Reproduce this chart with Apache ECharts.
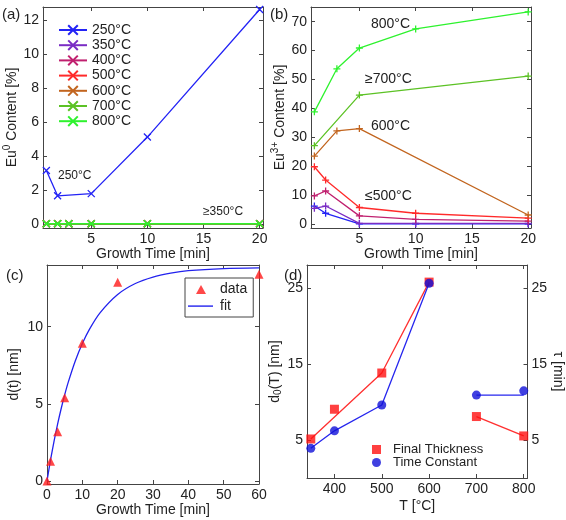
<!DOCTYPE html>
<html>
<head>
<meta charset="utf-8">
<script src="https://cdn.jsdelivr.net/npm/echarts@6/dist/echarts.min.js"></script>
<style>
  html, body { margin: 0; padding: 0; background: #fff; }
  #chart { width: 566px; height: 520px; }
</style>
</head>
<body>
<div id="chart"></div>
<script>
// (a) Eu0 content vs growth time
const eu0Times250 = [1, 2, 5, 10, 20];
const eu0Vals250 = [3.15, 1.65, 1.78, 5.12, 12.65];
const eu0TimesHigh = [1, 2, 3, 5, 10, 20];
const eu0ValsHigh = [0, 0, 0, 0, 0, 0];

// (b) Eu3+ content vs growth time
const t250 = [1, 2, 5, 10, 20], v250 = [6.2, 3.7, 0, 0, 0];
const t350 = [1, 2, 5, 10, 20], v350 = [5.4, 6.2, 0.2, 0.2, 0.2];
const t400 = [1, 2, 5, 10, 20], v400 = [9.7, 11.4, 2.8, 1.6, 1.0];
const t500 = [1, 2, 5, 10, 20], v500 = [19.8, 15.2, 5.7, 3.7, 2.0];
const t600 = [1, 3, 5, 20], v600 = [23.5, 32.2, 33.0, 3.1];
const t700 = [1, 5, 20], v700 = [27.1, 44.6, 51.2];
const t800 = [1, 3, 5, 10, 20], v800 = [38.8, 53.7, 60.9, 67.5, 73.4];

// (c) thickness vs time
const dataT = [0, 1, 3, 5, 10, 20, 60];
const dataD = [0, 1.28, 3.18, 5.39, 8.92, 12.88, 13.4];
const fitT = [0, 1, 2, 3, 4, 5, 6, 8, 10, 12, 15, 20, 25, 30, 35, 40, 50, 60];
const fitD = [0, 1.36, 2.58, 3.68, 4.68, 5.58, 6.39, 7.78, 8.91, 9.83, 10.9, 12.09, 12.8, 13.22, 13.47, 13.63, 13.77, 13.82];

// (d) final thickness / time constant vs temperature
const tempsD = [350, 400, 500, 600, 700, 800];
const finalThick = [5.13, 9.04, 13.8, 25.75, 8.08, 5.53];
const timeConst = [3.9, 6.2, 9.6, 25.6, 10.9, 11.46];
const thickLineLow = [[350, 5.13], [500, 13.8], [600, 25.75]];
const thickLineHigh = [[700, 8.08], [800, 5.53]];
const tauLineLow = [[350, 3.9], [400, 6.2], [500, 9.6], [600, 25.6]];
const tauLineHigh = [[700, 10.9], [800, 10.9]];

const tempNames = ['250°C', '350°C', '400°C', '500°C', '600°C', '700°C', '800°C'];
const tempColors = ['#2323f5', '#7a2cc4', '#c0206f', '#ff2a2a', '#c2651f', '#5cc225', '#2ef22e'];

const FONT = 'Liberation Sans';
const CROSS = 'path://M0,0L10,10M10,0L0,10';
const PLUS = 'path://M5,0L5,10M0,5L10,5';
// legend icons padded with empty corner points so they keep their shape
const ICON_TRI = 'path://M0,0L0,0M8,10L13,1L18,10ZM25,10L25,10';
const ICON_LINE = 'path://M0,0L0,0M0,4.4L25,4.4L25,5.8L0,5.8ZM25,10L25,10';

function zip(xs, ys) {
  return xs.map((x, i) => [x, ys[i]]);
}

const lineCol = '#444';
function axis(extra, ticks, showLabel) {
  const a = {
    type: 'value',
    axisLine: { show: true, onZero: false, lineStyle: { color: lineCol, width: 1 } },
    axisTick: { show: true, inside: true, length: 4, lineStyle: { color: lineCol } },
    axisLabel: { show: showLabel, color: '#222', fontSize: 14, fontFamily: FONT, margin: 4 },
    splitLine: { show: false },
    nameTextStyle: { color: '#222', fontSize: 14, fontFamily: FONT }
  };
  if (ticks) {
    a.axisTick.customValues = ticks;
    a.axisLabel.customValues = ticks;
  }
  return Object.assign(a, extra);
}

const tA = [5, 10, 15, 20];
const yA = [0, 2, 4, 6, 8, 10, 12];
const yB = [0, 10, 20, 30, 40, 50, 60, 70];
const tC = [0, 10, 20, 30, 40, 50, 60];
const yC = [0, 5, 10];
const tD = [400, 500, 600, 700, 800];
const yD = [5, 15, 25];

const grids = [
  { left: 43, top: 7, width: 220, height: 221 },
  { left: 311, top: 7, width: 220, height: 221 },
  { left: 47, top: 265, width: 212, height: 219 },
  { left: 307, top: 265, width: 221, height: 213 }
];

const xAxes = [
  axis({ gridIndex: 0, min: 0.7, max: 20.3, name: 'Growth Time [min]', nameLocation: 'middle', nameGap: 16 }, tA, true),
  axis({ gridIndex: 0, min: 0.7, max: 20.3, position: 'top' }, tA, false),
  axis({ gridIndex: 1, min: 0.7, max: 20.25, name: 'Growth Time [min]', nameLocation: 'middle', nameGap: 16 }, tA, true),
  axis({ gridIndex: 1, min: 0.7, max: 20.25, position: 'top' }, tA, false),
  axis({ gridIndex: 2, min: 0, max: 60, name: 'Growth Time [min]', nameLocation: 'middle', nameGap: 17 }, tC, true),
  axis({ gridIndex: 2, min: 0, max: 60, position: 'top' }, tC, false),
  axis({ gridIndex: 3, min: 342, max: 808, name: 'T [°C]', nameLocation: 'middle', nameGap: 21 }, tD, true),
  axis({ gridIndex: 3, min: 342, max: 808, position: 'top' }, tD, false)
];

const supRich = {
  n: { fontSize: 14, fontFamily: FONT, color: '#222' },
  s: { fontSize: 10, fontFamily: FONT, color: '#222', padding: [0, 0, 11, 0] },
  d: { fontSize: 10, fontFamily: FONT, color: '#222', padding: [7, 0, 0, 0] }
};

const yAxes = [
  axis({ gridIndex: 0, min: -0.25, max: 12.8, name: '{n|Eu}{s|0}{n| Content [%]}', nameLocation: 'middle', nameGap: 17,
    nameTextStyle: { rich: supRich } }, yA, true),
  axis({ gridIndex: 0, min: -0.25, max: 12.8, position: 'right' }, yA, false),
  axis({ gridIndex: 1, min: -1.4, max: 75.1, name: '{n|Eu}{s|3+}{n| Content [%]}', nameLocation: 'middle', nameGap: 20,
    nameTextStyle: { rich: supRich } }, yB, true),
  axis({ gridIndex: 1, min: -1.4, max: 75.1, position: 'right' }, yB, false),
  axis({ gridIndex: 2, min: -0.2, max: 14, name: 'd(t) [nm]', nameLocation: 'middle', nameGap: 26 }, yC, true),
  axis({ gridIndex: 2, min: -0.2, max: 14, position: 'right' }, yC, false),
  axis({ gridIndex: 3, min: 0, max: 28, name: '{n|d}{d|0}{n|(T) [nm]}', nameLocation: 'middle', nameGap: 19,
    nameTextStyle: { rich: supRich } }, yD, true),
  axis({ gridIndex: 3, min: 0, max: 28, position: 'right', name: 'τ [min]', nameLocation: 'middle', nameGap: 18, nameRotate: -90 }, yD, true)
];

const series = [];
// (a)
tempNames.forEach((name, i) => {
  const data = i === 0 ? zip(eu0Times250, eu0Vals250) : zip(eu0TimesHigh, eu0ValsHigh);
  series.push({
    name: name, type: 'line', xAxisIndex: 0, yAxisIndex: 0, data: data,
    symbol: CROSS, symbolSize: 7, showAllSymbol: true,
    lineStyle: { color: tempColors[i], width: 1.3 },
    itemStyle: { color: tempColors[i], borderColor: tempColors[i], borderWidth: 1.3 },
    emphasis: { disabled: true }, animation: false, z: 2 + i
  });
});
// (b)
const bSets = [[t250, v250], [t350, v350], [t400, v400], [t500, v500], [t600, v600], [t700, v700], [t800, v800]];
bSets.forEach((s, i) => {
  series.push({
    name: tempNames[i], type: 'line', xAxisIndex: 2, yAxisIndex: 2, data: zip(s[0], s[1]),
    symbol: PLUS, symbolSize: 7, showAllSymbol: true,
    lineStyle: { color: tempColors[i], width: 1.3 },
    itemStyle: { color: tempColors[i], borderColor: tempColors[i], borderWidth: 1.3 },
    emphasis: { disabled: true }, animation: false, z: 2 + i
  });
});
// (c)
series.push({
  name: 'fit', type: 'line', xAxisIndex: 4, yAxisIndex: 4, data: zip(fitT, fitD),
  symbol: 'none', smooth: 0.3,
  lineStyle: { color: '#2222ee', width: 1.3 }, itemStyle: { color: '#2222ee' },
  animation: false, z: 2
});
series.push({
  name: 'data', type: 'scatter', xAxisIndex: 4, yAxisIndex: 4, data: zip(dataT, dataD),
  symbol: 'triangle', symbolSize: 9, itemStyle: { color: '#ff1a1a' }, animation: false, z: 3
});
// (d)
[[thickLineLow, '#ff3030'], [thickLineHigh, '#ff3030'], [tauLineLow, '#2626ee'], [tauLineHigh, '#2626ee']].forEach(l => {
  series.push({
    type: 'line', xAxisIndex: 6, yAxisIndex: 6, data: l[0], symbol: 'none',
    lineStyle: { color: l[1], width: 1.3 }, animation: false, z: 2
  });
});
series.push({
  name: 'Final Thickness', type: 'scatter', xAxisIndex: 6, yAxisIndex: 6, data: zip(tempsD, finalThick),
  symbol: 'rect', symbolSize: 9, itemStyle: { color: '#ff1010' }, animation: false, z: 3
});
series.push({
  name: 'Time Constant', type: 'scatter', xAxisIndex: 6, yAxisIndex: 6, data: zip(tempsD, timeConst),
  symbol: 'circle', symbolSize: 9, itemStyle: { color: '#1010d8' }, animation: false, z: 3
});

const legendText = { color: '#222', fontSize: 14, fontFamily: FONT };

const option = {
  animation: false,
  grid: grids,
  xAxis: xAxes,
  yAxis: yAxes,
  series: series,
  legend: [
    {
      data: tempNames, orient: 'vertical', left: 58, top: 23, itemWidth: 28, itemHeight: 12, itemGap: 1.2,
      textStyle: legendText, selectedMode: false, padding: 0
    },
    {
      data: [{ name: 'data', icon: ICON_TRI }, { name: 'fit', icon: ICON_LINE }],
      orient: 'vertical', left: 185, top: 278, itemWidth: 25, itemHeight: 10, itemGap: 3,
      textStyle: Object.assign({}, legendText, { padding: [0, 0, 0, 2] }), selectedMode: false,
      borderColor: '#444', borderWidth: 1, padding: [4, 6, 4, 3]
    },
    {
      data: ['Final Thickness', 'Time Constant'], orient: 'vertical', left: 372, top: 443, itemWidth: 9, itemHeight: 9,
      itemGap: 0, textStyle: Object.assign({}, legendText, { fontSize: 13, padding: [0, 0, 0, 7] }), selectedMode: false, padding: 0
    }
  ],
  graphic: [
    { type: 'text', left: 2, top: 7, style: { text: '(a)', font: '15px ' + FONT, fill: '#222' } },
    { type: 'text', left: 270, top: 7, style: { text: '(b)', font: '15px ' + FONT, fill: '#222' } },
    { type: 'text', left: 6, top: 268, style: { text: '(c)', font: '15px ' + FONT, fill: '#222' } },
    { type: 'text', left: 284, top: 268, style: { text: '(d)', font: '15px ' + FONT, fill: '#222' } },
    { type: 'text', left: 58, top: 170, style: { text: '250°C', font: '12px ' + FONT, fill: '#222' } },
    { type: 'text', left: 203, top: 206, style: { text: '≥350°C', font: '12px ' + FONT, fill: '#222' } },
    { type: 'text', left: 371, top: 17, style: { text: '800°C', font: '14px ' + FONT, fill: '#222' } },
    { type: 'text', left: 365, top: 72, style: { text: '≥700°C', font: '14px ' + FONT, fill: '#222' } },
    { type: 'text', left: 371, top: 119, style: { text: '600°C', font: '14px ' + FONT, fill: '#222' } },
    { type: 'text', left: 365, top: 189, style: { text: '≤500°C', font: '14px ' + FONT, fill: '#222' } }
  ]
};

const chart = echarts.init(document.getElementById('chart'));
chart.setOption(option);
</script>
</body>
</html>
